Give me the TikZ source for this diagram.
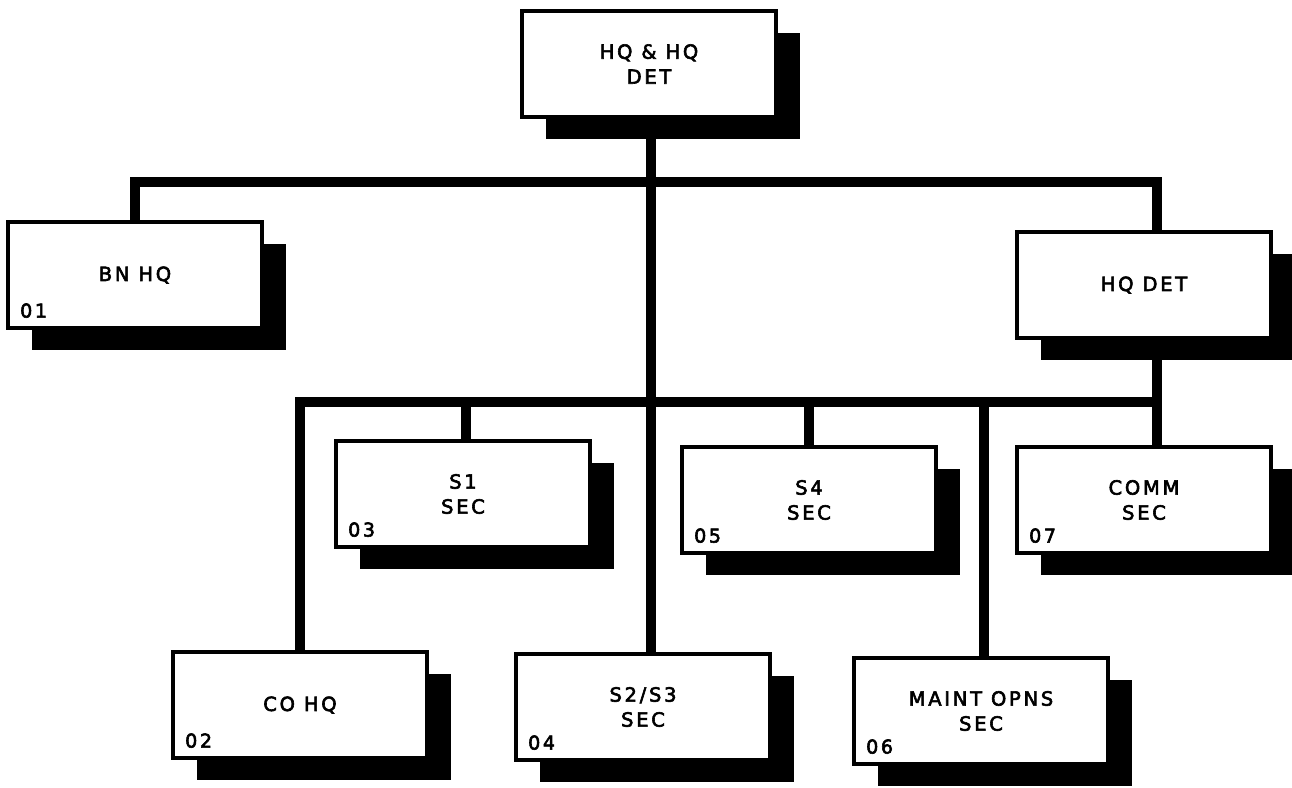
\documentclass[tikz,border=0pt]{standalone}
\usepackage{fontspec}
\setmainfont{DejaVu Sans}[LetterSpace=14, FakeBold=3]
\usetikzlibrary{positioning,shadows}

\begin{document}
\begin{tikzpicture}[
  x=1pt, y=-1pt,
  unit/.style={draw, line width=4pt, fill=white, minimum width=254pt, minimum height=106pt,
    inner sep=0pt, align=center, font=\fontsize{19.5}{25}\selectfont,
    drop shadow={shadow xshift=24pt, shadow yshift=-22pt, fill=black, opacity=1}},
  num/.style={anchor=south west, inner sep=0pt, font=\fontsize{19}{19}\selectfont},
  bar/.style={line width=10.5pt, line join=miter}
]
\useasboundingbox (0,0) rectangle (1292,787);

% boxes
\node[unit] (top) at (649,64) {HQ \& HQ\\DET};
\node[unit] (bn) at (135,275) {BN HQ};
\node[unit] (hqdet) at (1144,285) {HQ DET};
\node[unit] (s1) at (463,494) {S1\\SEC};
\node[unit] (s4) at (809,500) {S4\\SEC};
\node[unit] (comm) at (1144,500) {COMM\\SEC};
\node[unit] (co) at (300,705) {CO HQ};
\node[unit] (s23) at (643,707) {S2/S3\\SEC};
\node[unit] (maint) at (981,711) {MAINT OPNS\\SEC};

% unit numbers
\node[num] (n01) at ([shift={(14,-12)}]bn.south west) {01};
\node[num] (n02) at ([shift={(14,-12)}]co.south west) {02};
\node[num] (n03) at ([shift={(14,-12)}]s1.south west) {03};
\node[num] (n04) at ([shift={(14,-12)}]s23.south west) {04};
\node[num] (n05) at ([shift={(14,-12)}]s4.south west) {05};
\node[num] (n06) at ([shift={(14,-12)}]maint.south west) {06};
\node[num] (n07) at ([shift={(14,-12)}]comm.south west) {07};

% connecting bars
\coordinate (upper) at (651,182);
\coordinate (lower) at (651,402);
\draw[bar] (top.south -| upper) -- (s23.north -| upper);
\draw[bar] (bn.north) |- (upper) -| ([xshift=13pt]hqdet.north);
\draw[bar] ([xshift=13pt]hqdet.south) -- ([xshift=13pt]comm.north);
\draw[bar] (co.north) |- (lower) -| ([xshift=13pt]comm.north);
\draw[bar] ([xshift=3pt]s1.north |- lower) -- ([xshift=3pt]s1.north);
\draw[bar] (s4.north |- lower) -- (s4.north);
\draw[bar] ([xshift=3pt]maint.north |- lower) -- ([xshift=3pt]maint.north);
\end{tikzpicture}
\end{document}
